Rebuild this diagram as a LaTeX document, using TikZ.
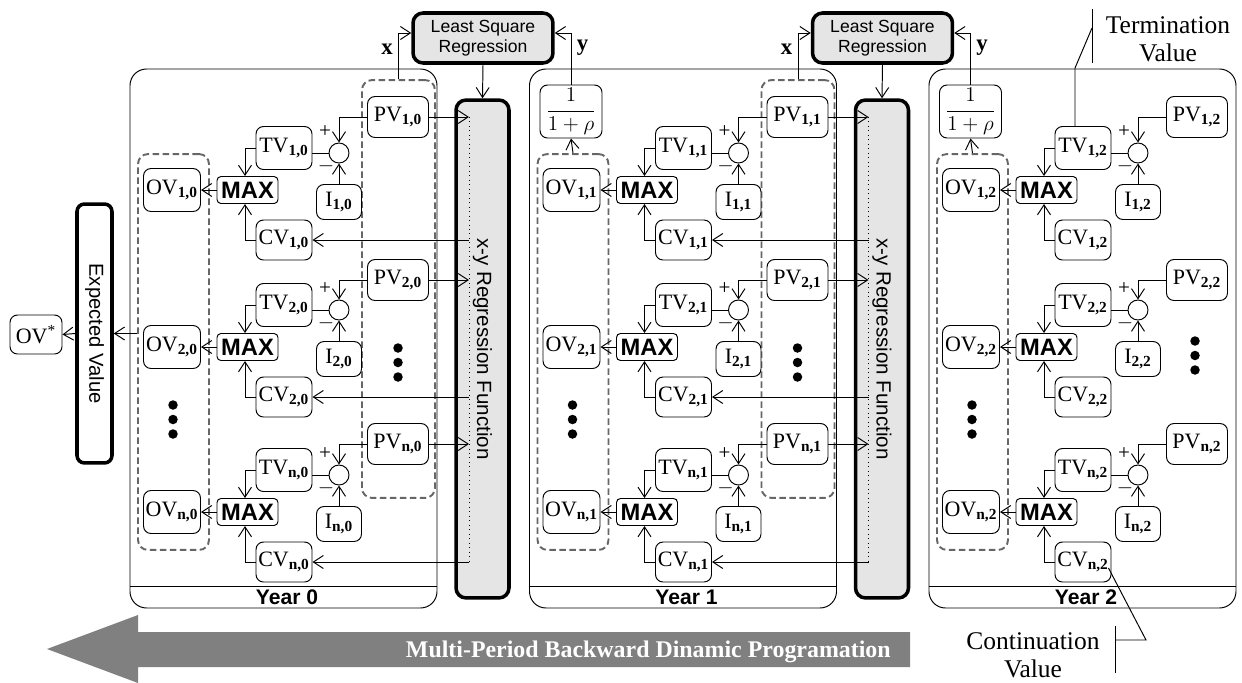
\documentclass[tikz,border=0pt]{standalone}
\usepackage{fontspec}
\setmainfont{Liberation Serif}
\setsansfont{Liberation Sans}
\usetikzlibrary{arrows.meta}
\newcommand{\ix}[1]{\textsubscript{\textbf{#1}}}
\newcommand{\fs}[1]{\fontsize{#1}{#1}\selectfont}

\begin{document}
\begin{tikzpicture}[
  x=0.02cm, y=-0.02cm, line width=0.55pt,
  >={Straight Barb[length=2mm,width=2.6mm]},
  cell/.style={draw, rounded corners=1.5mm, inner sep=1pt, fill=white, font=\fs{12.5}},
  pvbox/.style={cell, minimum width=12.2mm, minimum height=8.2mm},
  tvbox/.style={cell, minimum width=11.2mm, minimum height=8.6mm},
  cvbox/.style={cell, minimum width=11.2mm, minimum height=8mm},
  ovbox/.style={cell, minimum width=11.4mm, minimum height=8.6mm},
  ibox/.style={cell, minimum width=9mm, minimum height=7mm},
  maxbox/.style={draw, rounded corners=0.8mm, inner sep=1pt, minimum width=12.2mm, minimum height=5.4mm, font=\sffamily\bfseries\fs{13.5}},
  summer/.style={draw, circle, minimum size=4mm, inner sep=0pt},
  sign/.style={inner sep=0pt, font=\fs{12}},
  grp/.style={draw=black!60, line width=1.1pt, dash pattern=on 1.3mm off 0.7mm, rounded corners=2mm},
  regbox/.style={draw, line width=2pt, rounded corners=2mm, fill=black!10},
  yearbox/.style={draw, rounded corners=3.3mm},
  yearlab/.style={inner sep=0pt, font=\sffamily\bfseries\fs{12}},
  xylab/.style={inner sep=3pt, font=\bfseries\fs{13}},
  note/.style={align=center, font=\fontsize{14.5}{16}\selectfont}
]
\useasboundingbox (0,0) rectangle (1242,683);

% backward arrow
\fill[black!50] (47,649) -- (138,615) -- (138,632) -- (910,632) -- (910,667)
  -- (138,667) -- (138,683) -- cycle;
\node[anchor=east, text=white, font=\bfseries\fs{13.6}] (MP) at (897,652)
  {Multi-Period Backward Dinamic Programation};

% years
\foreach \k/\dx in {0/0,1/399.5,2/799}{
  \draw[yearbox] (130+\dx,69) rectangle (437+\dx,608);
  \draw (130+\dx,586) -- (437+\dx,586);
  \node[yearlab] (Y\k) at (287+\dx,597) {Year \k};
  \node[grp, minimum width=14.2mm, minimum height=79.2mm] (G\k) at (173.5+\dx,352) {};
  \ifnum\k<2
    \node[grp, minimum width=14.6mm, minimum height=83.6mm] (H\k) at (398.5+\dx,289) {};
    \node[regbox, minimum width=10.6mm, minimum height=99.6mm] (XY\k) at (482.5+\dx,349) {};
    \node[rotate=-90, font=\sffamily\fs{11.7}] (XYt\k) at (XY\k) {x-y Regression Function};
    \node[regbox, minimum width=28mm, minimum height=10mm, align=center,
      font=\sffamily\fontsize{10}{11.5}\selectfont] (LS\k) at (483+\dx,38) {Least Square\\Regression};
    \coordinate (Dt\k) at (469+\dx,117);
    \coordinate (Db\k) at (469+\dx,562);
    \draw[dotted] (Dt\k) -- (Db\k);
    \draw[->] (LS\k.south) -- (XY\k.north);
    \draw[->] (H\k.north) |- node[pos=0.32, left, xylab] (xl\k) {x} ([yshift=1mm]LS\k.west);
    \foreach \yy in {0,14.5,29} \fill (398+\dx,348+\yy) circle (0.95mm);
  \else
    \foreach \yy in {0,14.5,29} \fill (1195,341+\yy) circle (0.95mm);
  \fi
  \ifnum\k>0
    \pgfmathtruncatemacro{\kp}{\k-1}
    \node[cell, minimum width=12.4mm, minimum height=10.6mm] (FR\k) at (171.5+\dx,111.5)
      {$\displaystyle\frac{1}{1+\rho}$};
    \draw[->] (G\k.north) -- (FR\k.south);
    \draw[->] (FR\k.north) |- node[pos=0.36, right, xylab] (yl\k) {y} ([yshift=1mm]LS\kp.east);
  \fi
  \foreach \yy in {0,14.5,29} \fill (173+\dx,405+\yy) circle (0.95mm);
  \foreach \r/\m/\p in {1/190/117,2/347/280,n/512/444}{
    \node[ovbox] (OV\r\k) at (172+\dx,\m) {OV\ix{\r,\k}};
    \node[maxbox] (MX\r\k) at (247.5+\dx,\m) {MAX};
    \node[tvbox] (TV\r\k) at (284+\dx,\m-42) {TV\ix{\r,\k}};
    \node[cvbox] (CV\r\k) at (284+\dx,\m+50) {CV\ix{\r,\k}};
    \node[summer] (S\r\k) at (339+\dx,\m-37) {};
    \node[ibox] (I\r\k) at (339+\dx,\m+12) {I\ix{\r,\k}};
    \node[pvbox] (PV\r\k) at (398+\dx,\p) {PV\ix{\r,\k}};
    \node[sign] (pl\r\k) at (325+\dx,\m-58) {+};
    \node[sign] (mi\r\k) at (326+\dx,\m-24) {$-$};
    \draw[->] (PV\r\k.west) -| (S\r\k.north);
    \draw[->] (I\r\k.north) -- (S\r\k.south);
    \draw (S\r\k.west) -- (S\r\k.west -| TV\r\k.east);
    \draw[->] (TV\r\k.west) -| ([xshift=-0.5mm]MX\r\k.north);
    \draw[->] (CV\r\k.west) -| ([xshift=-0.5mm]MX\r\k.south);
    \draw[->] (MX\r\k.west) -- (OV\r\k.east);
    \ifnum\k<2
      \draw[->] (PV\r\k.east) -- (PV\r\k.east -| Dt\k);
      \draw[->] (CV\r\k.east -| Dt\k) -- (CV\r\k.east);
    \fi
  }
}

% expected value
\node[draw, line width=2pt, rounded corners=1.5mm, minimum width=7mm, minimum height=51.8mm] (EV) at (94.5,333.5) {};
\node[rotate=-90, font=\sffamily\fs{11.5}] (EVt) at (EV) {Expected Value};
\node[cell, minimum width=10.4mm, minimum height=7.8mm] (OVs) at (36,334.5) {OV\textsuperscript{*}};
\draw[->] (EV.east -| G0.west) -- (EV.east);
\draw[->] (EV.west) -- (OVs.east);

% annotations
\node[note] (TVnote) at (1168,39) {Termination\\Value};
\coordinate (tb1) at (1092,9);
\coordinate (tb2) at (1092,63);
\coordinate (tbm) at (1092,28);
\draw (tb1) -- (tb2);
\draw ([xshift=-1.6mm]TV12.north) -- ++(0,-58) -- (tbm);
\node[note] (CVnote) at (1033,655) {Continuation\\Value};
\coordinate (cb1) at (1115,626);
\coordinate (cb2) at (1115,673);
\coordinate (cbm) at (1115,640);
\draw (cb1) -- (cb2);
\draw ([xshift=-0.6mm,yshift=-1.2mm]CVn2.east) -- (1146,640) -- (cbm);
\end{tikzpicture}
\end{document}
